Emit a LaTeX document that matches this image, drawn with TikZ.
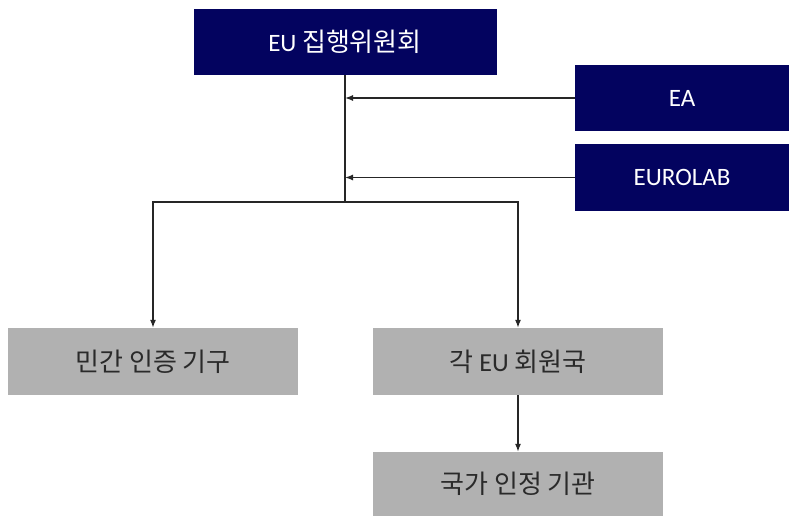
\documentclass[tikz,border=0pt]{standalone}
\usepackage{fontspec}
\setmainfont{Carlito}
\newfontfamily\kr{Noto Sans CJK KR}
\usetikzlibrary{arrows.meta}
\definecolor{navybox}{HTML}{03035F}
\definecolor{graybox}{HTML}{B1B1B1}
\definecolor{darktext}{HTML}{2A2A2A}
\begin{document}
\begin{tikzpicture}[x=1pt,y=-1pt,
  navy/.style={draw=none,fill=navybox,text=white,font=\fontsize{25}{28}\selectfont,inner sep=0pt},
  grey/.style={draw=none,fill=graybox,text=darktext,font=\fontsize{26}{30}\selectfont,inner sep=0pt},
  conn/.style={line width=1.3pt,draw=black!85},
  arr/.style={conn,-{Latex[length=8pt,width=6pt]}}]
\useasboundingbox[fill=white] (0,0) rectangle (789,516);
\node[navy,minimum width=303pt,minimum height=66pt] (eu) at (345,42) {EU {\kr\fontsize{26}{30}\selectfont 집행위원회}};
\node[navy,minimum width=214pt,minimum height=66pt] (ea) at (682,98) {EA};
\node[navy,minimum width=214pt,minimum height=67pt] (el) at (682,177.5) {EUROLAB};
\node[grey,minimum width=290pt,minimum height=67pt] (b1) at (153,361.5) {\kr 민간 인증 기구};
\node[grey,minimum width=290pt,minimum height=67pt] (b2) at (518,361.5) {{\kr 각} EU {\kr 회원국}};
\node[grey,minimum width=290pt,minimum height=64pt] (b3) at (518,484) {\kr 국가 인정 기관};
\coordinate (j) at (345,202);
\draw[conn] (eu.south) -- (j);
\draw[arr] (ea.west) -- (ea.west -| j);
\draw[arr] (el.west) -- (el.west -| j);
\draw[arr] (j) -| (b1.north);
\draw[arr] (j) -| (b2.north);
\draw[arr] (b2.south) -- (b3.north);
\end{tikzpicture}
\end{document}
